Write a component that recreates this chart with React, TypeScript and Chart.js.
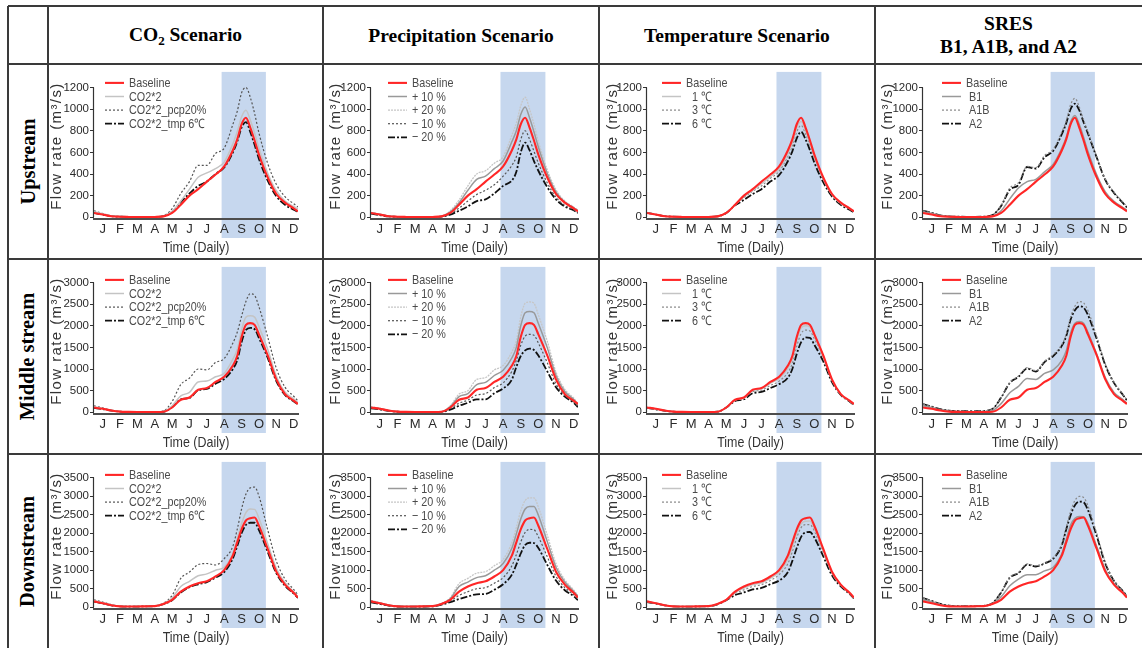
import React, { useEffect, useRef } from "react";
import { Chart, registerables } from "chart.js";
Chart.register(...registerables);

// ---------- DATA ----------
// x positions in months (0 = 1 Jan, 12 = 31 Dec)
const X_MONTHS = [0, 0.5, 1, 1.5, 2, 2.5, 3, 3.5, 4, 4.5, 5, 5.5, 6, 6.5, 7, 7.5, 8, 8.25, 8.5, 8.75, 9, 9.25, 9.5, 10, 10.5, 11, 11.5, 11.75];
const MONTH_LABELS = ["J", "F", "M", "A", "M", "J", "J", "A", "S", "O", "N", "D"];
const UP_TICKS = [0, 200, 400, 600, 800, 1000, 1200];
const MID_TICKS = [0, 500, 1000, 1500, 2000, 2500, 3000];
const DOWN_TICKS = [0, 500, 1000, 1500, 2000, 2500, 3000, 3500];
const BAND_MONTHS = [7.35, 9.9];

const COL_TITLES = ["CO2 Scenario", "Precipitation Scenario", "Temperature Scenario", "SRES B1, A1B, and A2"];
const ROW_TITLES = ["Upstream", "Middle stream", "Downstream"];
const X_TITLE = "Time (Daily)";
const Y_TITLE = "Flow rate (m³/s)";

const CO2_LABELS = ["Baseline", "CO2*2", "CO2*2_pcp20%", "CO2*2_tmp 6℃"];
const PCP_LABELS = ["Baseline", "+ 10 %", "+ 20 %", "− 10 %", "− 20 %"];
const TMP_LABELS = ["Baseline", "  1 ℃", "  3 ℃", "  6 ℃"];
const SRES_LABELS = ["Baseline", " B1", " A1B", " A2"];

// Upstream
const UP_BASELINE = [40, 25, 10, 5, 3, 2, 2, 3, 8, 40, 115, 200, 260, 330, 395, 470, 620, 720, 860, 920, 830, 710, 580, 370, 215, 135, 82, 55];
const UP_CO2X2 = [50, 30, 12, 6, 4, 3, 3, 4, 10, 55, 150, 260, 370, 410, 450, 510, 680, 790, 930, 990, 900, 780, 640, 410, 245, 150, 100, 75];
const UP_CO2X2_PCP20 = [60, 35, 15, 8, 5, 4, 4, 5, 15, 80, 220, 330, 480, 480, 590, 640, 860, 980, 1150, 1200, 1110, 960, 780, 500, 305, 190, 125, 95];
const UP_CO2X2_TMP6 = [40, 25, 10, 5, 3, 2, 2, 3, 10, 50, 140, 220, 290, 330, 400, 460, 600, 700, 830, 880, 790, 670, 540, 340, 195, 115, 70, 50];
const UP_PCP_P10 = [42, 27, 11, 5, 3, 2, 2, 3, 9, 50, 135, 250, 350, 380, 450, 520, 700, 800, 950, 1020, 920, 790, 650, 410, 235, 140, 90, 60];
const UP_PCP_P20 = [45, 28, 12, 6, 4, 3, 3, 4, 10, 60, 160, 290, 400, 430, 500, 560, 760, 870, 1030, 1110, 1000, 860, 700, 440, 255, 150, 95, 65];
const UP_PCP_M10 = [38, 22, 9, 4, 3, 2, 2, 3, 7, 32, 85, 150, 210, 250, 300, 380, 480, 560, 720, 800, 720, 610, 500, 320, 185, 110, 70, 45];
const UP_PCP_M20 = [35, 20, 8, 4, 2, 2, 2, 3, 6, 25, 60, 100, 150, 165, 220, 290, 340, 420, 600, 690, 620, 520, 430, 280, 165, 100, 65, 40];
const UP_TMP1 = [40, 25, 10, 5, 3, 2, 2, 3, 8, 40, 115, 190, 250, 310, 375, 445, 590, 690, 830, 885, 800, 690, 565, 360, 210, 128, 80, 53];
const UP_TMP3 = [40, 25, 10, 5, 3, 2, 2, 3, 8, 40, 112, 180, 240, 290, 360, 425, 565, 660, 790, 850, 770, 665, 550, 350, 205, 124, 77, 51];
const UP_TMP6 = [40, 25, 10, 5, 3, 2, 2, 3, 8, 40, 110, 160, 215, 260, 330, 390, 520, 610, 730, 790, 720, 620, 505, 325, 192, 115, 70, 45];
const UP_B1 = [50, 35, 15, 8, 5, 3, 3, 4, 10, 60, 170, 270, 330, 350, 420, 490, 640, 740, 880, 940, 860, 740, 610, 395, 235, 148, 92, 66];
const UP_A1B = [60, 40, 18, 9, 6, 4, 4, 6, 20, 110, 270, 320, 470, 460, 570, 630, 790, 890, 1040, 1100, 1020, 900, 790, 565, 355, 232, 142, 96];
const UP_A2 = [60, 40, 18, 9, 6, 4, 4, 6, 20, 105, 255, 300, 465, 450, 555, 615, 770, 870, 1000, 1050, 990, 880, 775, 555, 345, 225, 135, 90];

// Middle stream
const MID_BASELINE = [110, 80, 40, 15, 8, 5, 5, 6, 12, 110, 290, 340, 520, 560, 700, 820, 1080, 1300, 1740, 2020, 2060, 2020, 1800, 1320, 760, 420, 270, 190];
const MID_CO2X2 = [130, 90, 45, 18, 9, 6, 6, 7, 15, 150, 380, 460, 700, 720, 820, 900, 1230, 1450, 1900, 2200, 2230, 2200, 1980, 1460, 840, 470, 310, 220];
const MID_CO2X2_PCP20 = [150, 100, 50, 20, 10, 7, 7, 9, 30, 250, 640, 790, 1000, 980, 1150, 1240, 1600, 1850, 2220, 2560, 2740, 2700, 2440, 1750, 1020, 580, 370, 260];
const MID_CO2X2_TMP6 = [100, 75, 38, 14, 7, 5, 5, 6, 12, 120, 300, 330, 510, 540, 660, 770, 1000, 1200, 1620, 1900, 1950, 1920, 1720, 1260, 720, 400, 255, 180];
const MID_PCP_P10 = [115, 85, 42, 16, 8, 5, 5, 6, 13, 130, 360, 430, 640, 690, 850, 970, 1260, 1500, 2000, 2300, 2330, 2300, 2050, 1500, 850, 480, 300, 170];
const MID_PCP_P20 = [120, 90, 45, 17, 9, 6, 6, 7, 14, 150, 420, 500, 760, 800, 980, 1080, 1400, 1650, 2200, 2520, 2550, 2520, 2250, 1650, 930, 530, 330, 190];
const MID_PCP_M10 = [100, 70, 35, 13, 7, 5, 5, 6, 11, 85, 210, 280, 400, 430, 570, 680, 950, 1200, 1550, 1760, 1800, 1780, 1600, 1150, 660, 390, 240, 140];
const MID_PCP_M20 = [90, 65, 32, 12, 6, 4, 4, 5, 10, 60, 150, 220, 300, 300, 440, 550, 760, 1050, 1300, 1430, 1470, 1440, 1310, 950, 580, 360, 220, 120];
const MID_TMP1 = [108, 78, 39, 15, 8, 5, 5, 6, 12, 110, 285, 330, 500, 540, 670, 780, 1020, 1230, 1660, 1950, 2000, 1970, 1760, 1290, 745, 415, 262, 185];
const MID_TMP3 = [105, 75, 38, 14, 7, 5, 5, 6, 12, 110, 275, 320, 480, 510, 620, 720, 920, 1130, 1530, 1820, 1900, 1880, 1700, 1260, 730, 410, 258, 180];
const MID_TMP6 = [100, 70, 35, 13, 7, 5, 5, 6, 12, 110, 260, 300, 440, 470, 560, 650, 800, 1000, 1350, 1620, 1730, 1720, 1560, 1180, 700, 400, 250, 170];
const MID_B1 = [150, 100, 50, 25, 15, 10, 10, 15, 40, 200, 450, 600, 780, 760, 900, 980, 1200, 1420, 1830, 2060, 2100, 2060, 1850, 1350, 800, 460, 300, 200];
const MID_A1B = [190, 130, 70, 40, 30, 25, 25, 30, 75, 340, 690, 840, 1030, 960, 1180, 1330, 1570, 1800, 2200, 2450, 2560, 2530, 2350, 1760, 1120, 700, 420, 280];
const MID_A2 = [190, 130, 70, 40, 30, 25, 25, 30, 75, 340, 680, 820, 1010, 940, 1160, 1300, 1540, 1760, 2140, 2360, 2450, 2420, 2250, 1700, 1090, 680, 410, 270];

// Downstream
const DOWN_BASELINE = [160, 110, 55, 25, 20, 20, 25, 30, 90, 200, 420, 560, 650, 700, 830, 1000, 1400, 1750, 2100, 2340, 2400, 2420, 2200, 1580, 960, 610, 390, 260];
const DOWN_CO2X2 = [180, 120, 60, 28, 22, 22, 27, 35, 100, 250, 560, 700, 850, 900, 1000, 1080, 1450, 1850, 2250, 2550, 2650, 2640, 2400, 1720, 1050, 660, 420, 280];
const DOWN_CO2X2_PCP20 = [200, 140, 70, 32, 25, 25, 30, 40, 110, 320, 780, 950, 1150, 1180, 1140, 1310, 1650, 2100, 2650, 3050, 3220, 3240, 3000, 2100, 1250, 760, 480, 330];
const DOWN_CO2X2_TMP6 = [150, 105, 52, 24, 19, 19, 24, 30, 85, 190, 400, 540, 620, 680, 800, 950, 1320, 1650, 2000, 2220, 2280, 2280, 2080, 1500, 920, 580, 370, 250];
const DOWN_PCP_P10 = [170, 115, 58, 27, 21, 21, 26, 33, 95, 230, 560, 680, 800, 850, 1000, 1180, 1600, 1980, 2380, 2650, 2720, 2720, 2480, 1780, 1080, 680, 430, 290];
const DOWN_PCP_P20 = [180, 125, 62, 28, 22, 22, 27, 35, 100, 260, 640, 780, 920, 960, 1120, 1290, 1750, 2150, 2600, 2880, 2950, 2950, 2700, 1950, 1180, 740, 470, 310];
const DOWN_PCP_M10 = [145, 100, 50, 22, 18, 18, 22, 28, 80, 170, 320, 420, 500, 530, 650, 800, 1120, 1420, 1760, 2020, 2100, 2090, 1900, 1370, 840, 530, 340, 220];
const DOWN_PCP_M20 = [130, 90, 45, 20, 16, 16, 20, 25, 70, 140, 220, 290, 350, 360, 470, 620, 880, 1150, 1450, 1680, 1740, 1730, 1600, 1150, 720, 460, 300, 190];
const DOWN_TMP1 = [155, 108, 54, 25, 20, 20, 25, 30, 88, 198, 400, 520, 610, 660, 780, 950, 1300, 1630, 2000, 2250, 2320, 2330, 2130, 1530, 935, 600, 380, 255];
const DOWN_TMP3 = [150, 105, 52, 24, 19, 19, 24, 30, 85, 195, 370, 470, 560, 610, 720, 880, 1180, 1500, 1880, 2150, 2230, 2230, 2060, 1480, 910, 590, 375, 250];
const DOWN_TMP6 = [140, 100, 50, 22, 18, 18, 22, 28, 80, 190, 330, 400, 480, 520, 620, 720, 950, 1250, 1600, 1900, 2020, 2030, 1880, 1380, 860, 560, 360, 240];
const DOWN_B1 = [200, 140, 70, 32, 25, 22, 25, 33, 95, 280, 580, 760, 880, 880, 980, 1080, 1450, 1830, 2220, 2400, 2450, 2440, 2260, 1650, 1020, 640, 410, 270];
const DOWN_A1B = [250, 170, 90, 45, 35, 30, 32, 40, 110, 400, 810, 940, 1170, 1120, 1200, 1340, 1720, 2160, 2580, 2880, 2990, 2960, 2740, 2000, 1220, 730, 450, 310];
const DOWN_A2 = [250, 170, 90, 45, 35, 30, 32, 40, 110, 400, 800, 920, 1150, 1100, 1180, 1310, 1680, 2100, 2480, 2750, 2850, 2830, 2620, 1930, 1180, 710, 440, 300];

// ---------- STYLES ----------
type LineStyle = { color: string; width: number; dash: number[] };
const ST_BASE: LineStyle = { color: "#ff2626", width: 2.1, dash: [] };
const ST_LIGHT: LineStyle = { color: "#c4c4c4", width: 1.5, dash: [] };
const ST_DOT_DARK: LineStyle = { color: "#555555", width: 1.2, dash: [2, 2] };
const ST_DASHDOT: LineStyle = { color: "#111111", width: 1.8, dash: [7, 2, 2, 2] };
const ST_MID: LineStyle = { color: "#999999", width: 1.5, dash: [] };
const ST_DOT_LIGHT: LineStyle = { color: "#c6c6c6", width: 1.3, dash: [2, 1] };
const ST_DOT_GRAY: LineStyle = { color: "#888888", width: 1.2, dash: [2, 2] };

const SANS = "'Liberation Sans', Arial, sans-serif";
const SERIF = "'Liberation Serif', 'Times New Roman', serif";
const NARROW_SCALE = 0.83;

// ---------- LAYOUT ----------
const COL_X = [48, 323, 599, 875];
const COL_W = [275, 276, 276, 267];
const ROW_Y = [64, 259, 454];
const ROW_H = 195;
const AXIS_LEFT = [46, 48, 48, 48];
const AXIS_RIGHT = [250, 255, 255, 252];
const YTITLE_X = [9, 13, 13.5, 13];
const LEGEND_DX = [11, 17, 15, 19];
const LEGEND_DY = [11, 13, 13];

type Spec = {
  labels: string[];
  series: number[][];
  styles: LineStyle[];
  ticks: number[];
  col: number;
  row: number;
};

const ROW_DATA = [
  {
    ticks: UP_TICKS,
    co2: [UP_BASELINE, UP_CO2X2, UP_CO2X2_PCP20, UP_CO2X2_TMP6],
    pcp: [UP_BASELINE, UP_PCP_P10, UP_PCP_P20, UP_PCP_M10, UP_PCP_M20],
    tmp: [UP_BASELINE, UP_TMP1, UP_TMP3, UP_TMP6],
    sres: [UP_BASELINE, UP_B1, UP_A1B, UP_A2],
  },
  {
    ticks: MID_TICKS,
    co2: [MID_BASELINE, MID_CO2X2, MID_CO2X2_PCP20, MID_CO2X2_TMP6],
    pcp: [MID_BASELINE, MID_PCP_P10, MID_PCP_P20, MID_PCP_M10, MID_PCP_M20],
    tmp: [MID_BASELINE, MID_TMP1, MID_TMP3, MID_TMP6],
    sres: [MID_BASELINE, MID_B1, MID_A1B, MID_A2],
  },
  {
    ticks: DOWN_TICKS,
    co2: [DOWN_BASELINE, DOWN_CO2X2, DOWN_CO2X2_PCP20, DOWN_CO2X2_TMP6],
    pcp: [DOWN_BASELINE, DOWN_PCP_P10, DOWN_PCP_P20, DOWN_PCP_M10, DOWN_PCP_M20],
    tmp: [DOWN_BASELINE, DOWN_TMP1, DOWN_TMP3, DOWN_TMP6],
    sres: [DOWN_BASELINE, DOWN_B1, DOWN_A1B, DOWN_A2],
  },
];

const SPECS: Spec[] = [];
ROW_DATA.forEach((r, row) => {
  SPECS.push({ labels: CO2_LABELS, series: r.co2, styles: [ST_BASE, ST_LIGHT, ST_DOT_DARK, ST_DASHDOT], ticks: r.ticks, col: 0, row });
  SPECS.push({ labels: PCP_LABELS, series: r.pcp, styles: [ST_BASE, ST_MID, ST_DOT_LIGHT, ST_DOT_DARK, ST_DASHDOT], ticks: r.ticks, col: 1, row });
  SPECS.push({ labels: TMP_LABELS, series: r.tmp, styles: [ST_BASE, ST_LIGHT, ST_DOT_GRAY, ST_DASHDOT], ticks: r.ticks, col: 2, row });
  SPECS.push({ labels: SRES_LABELS, series: r.sres, styles: [ST_BASE, ST_MID, ST_DOT_GRAY, ST_DASHDOT], ticks: r.ticks, col: 3, row });
});

function narrowText(ctx: CanvasRenderingContext2D, text: string, x: number, y: number, align: CanvasTextAlign) {
  ctx.save();
  ctx.translate(x, y);
  ctx.scale(NARROW_SCALE, 1);
  ctx.textAlign = align;
  ctx.textBaseline = "middle";
  ctx.fillText(text, 0, 0);
  ctx.restore();
}

function ChartCell({ spec }: { spec: Spec }) {
  const ref = useRef<HTMLCanvasElement | null>(null);
  const w = COL_W[spec.col];
  const h = ROW_H;
  useEffect(() => {
    if (!ref.current) return;
    const top = spec.ticks[spec.ticks.length - 1];
    const yMax = (top * (154 - 5)) / (154 - 21);
    const yMin = -yMax * 0.012;
    const left = AXIS_LEFT[spec.col];
    const right = AXIS_RIGHT[spec.col];

    const bandPlugin = {
      id: "band",
      beforeDraw(chart: any) {
        const { ctx, chartArea, scales } = chart;
        const x0 = scales.x.getPixelForValue(BAND_MONTHS[0]);
        const x1 = scales.x.getPixelForValue(BAND_MONTHS[1]);
        ctx.save();
        ctx.fillStyle = "#c6d7ee";
        ctx.fillRect(x0, chartArea.top, x1 - x0, chartArea.bottom + 19 - chartArea.top);
        ctx.restore();
      },
    };
    const decoPlugin = {
      id: "deco",
      afterDraw(chart: any) {
        const { ctx, chartArea, scales } = chart;
        ctx.save();
        // y axis line from 0 to the top tick
        const ax = Math.round(chartArea.left) - 0.5;
        ctx.strokeStyle = "#333";
        ctx.lineWidth = 1.2;
        ctx.beginPath();
        ctx.moveTo(ax, scales.y.getPixelForValue(0));
        ctx.lineTo(ax, scales.y.getPixelForValue(top));
        ctx.stroke();
        // y title
        ctx.save();
        ctx.translate(YTITLE_X[spec.col], 82);
        ctx.rotate(-Math.PI / 2);
        ctx.fillStyle = "#333";
        ctx.font = "15px " + SANS;
        (ctx as any).letterSpacing = "1.4px";
        ctx.textAlign = "center";
        ctx.textBaseline = "middle";
        ctx.fillText(Y_TITLE, 0, 0);
        ctx.restore();
        // x title
        ctx.fillStyle = "#333";
        ctx.font = "15px " + SANS;
        narrowText(ctx, X_TITLE, (chartArea.left + chartArea.right) / 2, 184, "center");
        // legend
        const lx = chartArea.left + LEGEND_DX[spec.col];
        chart.data.datasets.forEach((ds: any, i: number) => {
          const y = chartArea.top + LEGEND_DY[spec.row] + i * 13.6;
          ctx.beginPath();
          ctx.setLineDash(ds.borderDash || []);
          ctx.strokeStyle = ds.borderColor;
          ctx.lineWidth = ds.borderWidth;
          ctx.moveTo(lx, y);
          ctx.lineTo(lx + 19, y);
          ctx.stroke();
          ctx.setLineDash([]);
          ctx.fillStyle = "#4a4a4a";
          ctx.font = "13px " + SANS;
          narrowText(ctx, ds.label, lx + 24, y + 0.5, "left");
        });
        ctx.restore();
      },
    };

    const chart = new Chart(ref.current, {
      type: "line",
      data: {
        datasets: spec.series.map((arr, i) => ({
          label: spec.labels[i],
          data: X_MONTHS.map((x, k) => ({ x, y: arr[k] })),
          borderColor: spec.styles[i].color,
          borderWidth: spec.styles[i].width,
          borderDash: spec.styles[i].dash,
          pointRadius: 0,
          fill: false,
          tension: 0.4,
          cubicInterpolationMode: "monotone",
        })),
      },
      options: {
        animation: false,
        responsive: false,
        maintainAspectRatio: false,
        events: [],
        layout: { padding: { left: 0, right: w - right, top: 5, bottom: 3 } },
        plugins: { legend: { display: false }, tooltip: { enabled: false } },
        scales: {
          x: {
            type: "linear",
            min: 0,
            max: 11.75,
            afterFit: (s: any) => {
              s.height = 37;
            },
            afterBuildTicks: (a: any) => {
              a.ticks = MONTH_LABELS.map((_, i) => ({ value: i + 0.5 }));
            },
            ticks: {
              autoSkip: false,
              maxRotation: 0,
              minRotation: 0,
              padding: 3,
              color: "#2a2a2a",
              font: { family: SANS, size: 13 },
              callback: (_v: any, i: number) => MONTH_LABELS[i],
            },
            grid: { display: false, drawTicks: false },
            border: { display: true, color: "#4d4d4d", width: 2 },
            title: { display: false },
          },
          y: {
            type: "linear",
            min: yMin,
            max: yMax,
            afterFit: (s: any) => {
              s.width = left;
            },
            afterBuildTicks: (a: any) => {
              a.ticks = spec.ticks.map((v) => ({ value: v }));
            },
            ticks: {
              padding: 1,
              color: "#2a2a2a",
              font: { family: SANS, size: 11.5 },
              callback: (v: any) => String(v),
            },
            grid: { display: true, drawOnChartArea: false, drawTicks: true, tickLength: 4, color: "#333", lineWidth: 1 },
            border: { display: false },
          },
        },
      },
      plugins: [bandPlugin, decoPlugin],
    } as any);
    return () => chart.destroy();
  }, [spec]);
  return (
    <canvas
      ref={ref}
      width={w}
      height={h}
      style={{ position: "absolute", left: COL_X[spec.col], top: ROW_Y[spec.row], width: w, height: h }}
    />
  );
}

const LINE = "#3a3a3a";

export default function App() {
  const hLines = [6, 64, 259, 454];
  const vLines = [8, 48, 323, 599, 875];
  return (
    <div style={{ position: "fixed", left: 0, top: 0, width: 1142, height: 648, overflow: "hidden", background: "#fff" }}>
      {hLines.map((y) => (
        <div key={"h" + y} style={{ position: "absolute", left: 8, top: y - 0.75, width: 1150, height: 1.5, background: LINE, zIndex: 2 }} />
      ))}
      {vLines.map((x) => (
        <div key={"v" + x} style={{ position: "absolute", left: x - 0.75, top: 6, width: 1.5, height: 650, background: LINE, zIndex: 2 }} />
      ))}
      {COL_TITLES.map((t, i) => (
        <div
          key={"c" + i}
          style={{
            position: "absolute",
            left: COL_X[i],
            top: 6,
            width: COL_W[i],
            height: 58,
            display: "flex",
            alignItems: "center",
            justifyContent: "center",
            textAlign: "center",
            font: "bold 19.5px " + SERIF,
            color: "#000",
            lineHeight: "23px",
          }}
        >
          {i === 0 ? (
            <span>
              CO<span style={{ fontSize: 13, position: "relative", top: 4 }}>2</span> Scenario
            </span>
          ) : i === 3 ? (
            <span>
              SRES
              <br />
              B1, A1B, and A2
            </span>
          ) : (
            <span>{t}</span>
          )}
        </div>
      ))}
      {ROW_TITLES.map((t, i) => (
        <div
          key={"r" + i}
          style={{
            position: "absolute",
            left: 8,
            top: ROW_Y[i],
            width: 40,
            height: ROW_H,
            display: "flex",
            alignItems: "center",
            justifyContent: "center",
          }}
        >
          <span style={{ transform: "rotate(-90deg)", whiteSpace: "nowrap", font: "bold 20.5px " + SERIF, color: "#000" }}>{t}</span>
        </div>
      ))}
      {SPECS.map((s, i) => (
        <ChartCell key={i} spec={s} />
      ))}
    </div>
  );
}
